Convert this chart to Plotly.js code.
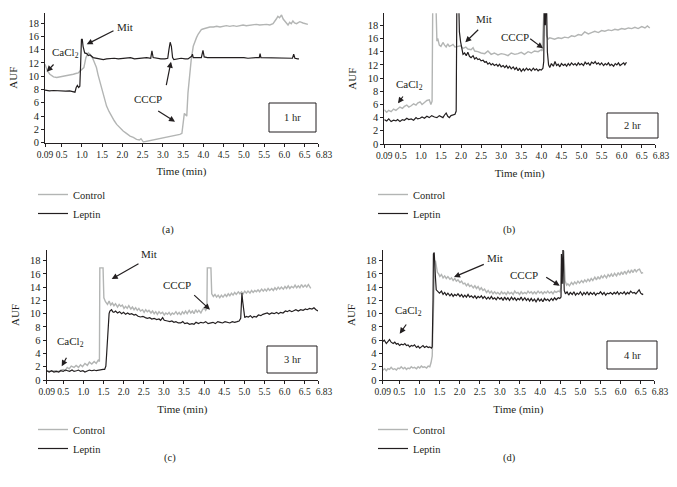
<!DOCTYPE html>
<html><head><meta charset="utf-8">
<script src="https://cdn.plot.ly/plotly-3.0.1.min.js"></script>
<style>html,body{margin:0;padding:0;background:#fff}#chart{width:677px;height:487px}</style>
</head><body><div id="chart"></div>
<script>
const xTickVals = [0.09,0.5,1.0,1.5,2.0,2.5,3.0,3.5,4.0,4.5,5.0,5.5,6.0,6.5];
const xTickText = ["0.09","0.5","1.0","1.5","2.0","2.5","3.0","3.5","4.0","4.5","5.0","5.5","6.0","6.5"];
const xEndTickVal = 6.83;
const xEndTickText = "6.83";
const yTickVals = [0,2,4,6,8,10,12,14,16,18];
const seriesNames = ["Control","Leptin"];
const panelLabels = ["(a)","(b)","(c)","(d)"];
const durationLabels = ["1 hr","2 hr","3 hr","4 hr"];

// [time (min), AUF]
const a_control = [[0.09,11.8],[0.15,10.8],[0.21,10.3],[0.30,9.9],[0.38,9.8],[0.46,9.9],[0.54,9.9],[0.62,10.1],[0.70,10.2],[0.79,10.3],[0.85,10.4],[0.91,10.5],[0.96,10.8],[1.00,11.0],[1.05,11.3],[1.10,12.8],[1.16,13.5],[1.20,13.3],[1.24,13.0],[1.28,12.5],[1.32,11.9],[1.36,11.3],[1.40,10.2],[1.45,9.0],[1.49,8.0],[1.53,7.0],[1.57,6.2],[1.61,5.5],[1.67,4.7],[1.73,4.0],[1.80,3.3],[1.86,2.75],[1.94,2.2],[2.02,1.75],[2.10,1.4],[2.19,1.0],[2.27,0.8],[2.35,0.5],[2.42,0.4],[2.46,0.6],[2.52,0.1],[2.60,0.2],[2.68,0.25],[2.76,0.4],[2.84,0.5],[2.92,0.6],[3.01,0.75],[3.09,0.8],[3.17,0.9],[3.25,1.0],[3.34,1.1],[3.42,1.25],[3.47,1.4],[3.50,3.0],[3.53,4.4],[3.56,4.2],[3.59,4.0],[3.62,7.5],[3.66,10.5],[3.70,12.5],[3.75,14.5],[3.79,15.3],[3.83,15.8],[3.87,16.3],[3.91,16.6],[3.95,17.0],[3.99,17.1],[4.08,17.3],[4.16,17.4],[4.25,17.4],[4.33,17.5],[4.41,17.4],[4.49,17.5],[4.57,17.6],[4.65,17.5],[4.74,17.6],[4.82,17.5],[4.90,17.6],[4.98,17.7],[5.06,17.6],[5.15,17.7],[5.23,17.7],[5.31,17.8],[5.39,17.7],[5.47,17.8],[5.56,17.8],[5.64,17.7],[5.72,17.9],[5.80,18.6],[5.84,19.0],[5.88,18.8],[5.93,19.2],[5.97,18.6],[6.01,18.3],[6.05,18.0],[6.09,17.7],[6.13,18.1],[6.17,17.9],[6.21,18.3],[6.25,18.0],[6.30,17.9],[6.34,18.1],[6.38,18.2],[6.46,18.0],[6.54,17.9],[6.58,17.8]];
const a_leptin = [[0.09,7.9],[0.2,7.8],[0.3,7.85],[0.4,7.8],[0.5,7.8],[0.6,7.75],[0.7,7.8],[0.79,7.7],[0.83,7.6],[0.86,8.3],[0.89,8.6],[0.92,8.3],[0.95,8.5],[0.97,11.8],[0.99,15.5],[1.01,15.6],[1.03,14.5],[1.07,13.5],[1.12,13.4],[1.16,13.1],[1.20,13.2],[1.28,12.8],[1.36,12.7],[1.45,12.6],[1.53,12.5],[1.61,12.6],[1.70,12.7],[1.80,12.7],[1.90,12.6],[2.0,12.7],[2.1,12.7],[2.2,12.8],[2.3,12.6],[2.4,12.7],[2.5,12.7],[2.6,12.8],[2.70,12.7],[2.73,13.8],[2.76,12.8],[2.85,12.7],[2.95,12.6],[3.05,12.6],[3.12,12.7],[3.15,14.0],[3.18,15.1],[3.21,14.5],[3.24,12.8],[3.27,12.5],[3.35,12.6],[3.45,12.7],[3.55,12.6],[3.62,12.6],[3.71,13.0],[3.73,13.3],[3.75,12.8],[3.85,12.8],[3.95,12.8],[3.99,13.9],[4.02,12.9],[4.1,12.8],[4.2,12.8],[4.3,12.8],[4.4,12.9],[4.5,12.8],[4.6,12.8],[4.7,12.8],[4.8,12.9],[4.9,12.8],[5.0,12.8],[5.1,12.7],[5.2,12.8],[5.3,12.8],[5.38,12.8],[5.40,13.4],[5.42,12.8],[5.5,12.8],[5.6,12.7],[5.7,12.8],[5.8,12.7],[5.9,12.7],[6.0,12.7],[6.1,12.7],[6.2,12.7],[6.23,13.3],[6.26,12.7],[6.33,12.6],[6.36,12.6]];

const b_control = [[0.09,5.2],[0.15,4.8],[0.2,5.1],[0.26,4.9],[0.32,5.3],[0.38,5.1],[0.42,5.3],[0.48,5.6],[0.54,5.4],[0.59,5.7],[0.65,5.9],[0.70,5.6],[0.76,5.8],[0.82,6.1],[0.88,5.9],[0.92,6.2],[0.98,6.4],[1.03,6.0],[1.09,6.3],[1.15,6.6],[1.21,6.7],[1.25,6.0],[1.28,6.5],[1.30,25],[1.36,25],[1.40,15.6],[1.42,16.0],[1.46,15.0],[1.50,14.8],[1.55,15.4],[1.59,15.0],[1.63,14.7],[1.67,15.2],[1.71,14.8],[1.75,14.9],[1.80,15.1],[1.85,14.7],[1.92,14.8],[1.99,14.9],[2.05,14.5],[2.12,14.7],[2.17,14.4],[2.25,14.3],[2.30,14.6],[2.34,14.1],[2.42,14.0],[2.50,13.8],[2.59,13.7],[2.67,14.1],[2.75,13.6],[2.83,13.8],[2.92,13.5],[3.0,13.7],[3.09,13.6],[3.17,13.4],[3.25,13.8],[3.34,13.6],[3.42,13.7],[3.50,13.9],[3.58,13.6],[3.67,14.0],[3.75,13.8],[3.83,14.1],[3.92,14.0],[4.00,14.3],[4.02,14.1],[4.04,25],[4.10,25],[4.13,16.4],[4.17,15.9],[4.21,16.1],[4.25,16.0],[4.33,15.9],[4.42,16.1],[4.50,16.0],[4.58,16.2],[4.67,16.1],[4.75,16.4],[4.83,16.3],[4.92,16.6],[5.0,16.5],[5.08,17.0],[5.17,16.7],[5.25,16.9],[5.33,17.1],[5.42,16.9],[5.50,17.2],[5.58,17.1],[5.67,17.3],[5.75,17.2],[5.83,17.4],[5.91,17.3],[6.0,17.5],[6.08,17.4],[6.17,17.6],[6.25,17.5],[6.33,17.7],[6.41,17.5],[6.50,17.8],[6.58,17.6],[6.64,17.9],[6.70,17.6]];
const b_leptin = [[0.09,3.7],[0.15,3.5],[0.2,3.8],[0.26,3.4],[0.32,3.6],[0.38,3.5],[0.42,3.7],[0.48,3.4],[0.54,3.7],[0.59,3.6],[0.65,3.9],[0.70,3.7],[0.76,3.8],[0.82,3.6],[0.88,4.0],[0.92,3.8],[0.98,3.9],[1.03,4.1],[1.09,3.9],[1.15,4.2],[1.21,4.0],[1.27,4.3],[1.34,4.1],[1.40,4.0],[1.46,4.3],[1.50,4.2],[1.55,4.0],[1.59,4.4],[1.63,4.7],[1.67,4.2],[1.71,4.0],[1.75,4.3],[1.80,4.4],[1.85,4.5],[1.88,5.0],[1.90,25],[1.93,25],[1.96,17],[1.99,15.5],[2.02,14.5],[2.05,13.6],[2.09,13.8],[2.13,13.4],[2.17,13.9],[2.21,13.3],[2.25,13.1],[2.30,13.4],[2.34,12.9],[2.38,13.1],[2.42,12.8],[2.46,12.9],[2.50,12.6],[2.55,12.7],[2.59,12.4],[2.63,12.5],[2.67,12.1],[2.71,12.3],[2.75,12.0],[2.79,12.2],[2.83,11.9],[2.88,12.1],[2.92,11.8],[2.96,12.1],[3.0,11.7],[3.05,11.9],[3.09,11.6],[3.13,11.9],[3.17,11.5],[3.21,11.8],[3.25,11.4],[3.30,11.7],[3.34,11.3],[3.38,11.6],[3.42,11.1],[3.46,11.5],[3.50,11.0],[3.55,11.4],[3.58,11.1],[3.63,11.5],[3.67,11.2],[3.71,11.4],[3.75,11.1],[3.80,11.5],[3.84,11.2],[3.88,11.4],[3.92,11.1],[3.96,11.3],[4.00,11.2],[4.04,11.5],[4.06,12.5],[4.08,25],[4.10,18],[4.12,25],[4.15,14],[4.18,12.0],[4.21,11.6],[4.25,12.2],[4.30,11.8],[4.34,12.5],[4.38,11.9],[4.42,12.1],[4.46,11.7],[4.50,12.2],[4.55,11.9],[4.59,12.1],[4.63,11.8],[4.67,12.2],[4.71,11.9],[4.75,12.3],[4.80,12.0],[4.84,12.2],[4.88,11.9],[4.92,12.3],[4.96,12.0],[5.0,12.2],[5.05,11.9],[5.09,12.4],[5.13,12.1],[5.17,12.3],[5.21,11.9],[5.25,12.4],[5.30,12.2],[5.34,12.5],[5.38,12.1],[5.42,12.3],[5.46,12.0],[5.50,12.3],[5.55,11.9],[5.59,12.2],[5.63,12.0],[5.67,12.3],[5.71,11.9],[5.75,12.1],[5.80,11.8],[5.84,12.2],[5.88,12.0],[5.92,12.3],[5.96,11.9],[6.0,12.1],[6.05,12.3],[6.08,12.0],[6.12,12.4]];

const c_control = [[0.09,1.4],[0.2,1.3],[0.30,1.4],[0.40,1.3],[0.44,1.5],[0.50,1.6],[0.55,1.4],[0.60,1.9],[0.65,1.7],[0.70,2.1],[0.77,1.9],[0.82,2.2],[0.88,1.9],[0.93,2.3],[0.98,2.0],[1.04,2.5],[1.10,2.2],[1.15,2.7],[1.21,2.4],[1.27,2.8],[1.32,2.5],[1.37,3.0],[1.40,2.8],[1.41,16.9],[1.49,16.9],[1.51,12.4],[1.55,11.8],[1.60,11.4],[1.64,11.9],[1.68,11.3],[1.72,11.6],[1.76,11.2],[1.80,11.5],[1.85,11.0],[1.89,11.4],[1.93,11.1],[1.97,11.3],[2.01,10.8],[2.05,11.1],[2.09,10.8],[2.13,11.2],[2.18,10.7],[2.22,11.0],[2.26,10.6],[2.30,10.9],[2.34,10.5],[2.38,10.8],[2.42,10.4],[2.47,10.6],[2.51,10.2],[2.55,10.6],[2.59,10.3],[2.63,10.5],[2.68,10.1],[2.72,10.4],[2.76,10.0],[2.80,10.3],[2.84,9.9],[2.88,10.3],[2.92,10.0],[2.97,10.2],[3.01,9.8],[3.05,10.1],[3.09,9.9],[3.13,10.2],[3.17,9.8],[3.21,10.1],[3.25,9.9],[3.30,10.3],[3.34,9.9],[3.38,10.2],[3.42,9.8],[3.46,10.3],[3.50,10.0],[3.54,10.4],[3.58,10.0],[3.63,10.5],[3.67,10.1],[3.71,10.4],[3.75,10.0],[3.79,10.6],[3.83,10.2],[3.87,10.5],[3.92,10.1],[3.96,10.6],[4.00,10.9],[4.04,10.5],[4.07,10.8],[4.08,16.9],[4.17,16.9],[4.19,13.0],[4.23,12.6],[4.27,12.9],[4.31,12.5],[4.35,12.8],[4.39,12.4],[4.43,12.8],[4.47,12.5],[4.52,12.9],[4.56,12.6],[4.60,13.0],[4.64,12.7],[4.68,13.1],[4.72,12.8],[4.76,13.2],[4.80,12.9],[4.85,13.3],[4.89,13.0],[4.93,13.3],[4.97,13.0],[5.01,13.4],[5.05,13.1],[5.09,13.4],[5.14,13.1],[5.18,13.5],[5.22,13.2],[5.26,13.5],[5.30,13.3],[5.34,13.6],[5.38,13.3],[5.43,13.7],[5.47,13.4],[5.51,13.7],[5.55,13.4],[5.59,13.8],[5.63,13.5],[5.68,13.8],[5.72,13.5],[5.76,13.9],[5.80,13.6],[5.84,14.0],[5.88,13.7],[5.92,14.0],[5.97,13.7],[6.01,14.1],[6.05,13.8],[6.09,14.2],[6.13,13.8],[6.17,14.1],[6.22,13.9],[6.26,14.3],[6.30,13.9],[6.34,14.2],[6.38,13.9],[6.42,14.4],[6.46,14.0],[6.51,14.3],[6.55,14.0],[6.59,14.4],[6.63,14.0],[6.65,13.8]];
const c_leptin = [[0.09,1.4],[0.15,1.2],[0.21,1.4],[0.27,1.2],[0.33,1.3],[0.39,1.2],[0.44,1.4],[0.50,1.3],[0.55,1.5],[0.60,1.4],[0.66,1.3],[0.72,1.5],[0.77,1.3],[0.83,1.4],[0.88,1.5],[0.93,1.3],[0.99,1.4],[1.04,1.2],[1.10,1.3],[1.15,1.5],[1.21,1.4],[1.27,1.5],[1.32,1.4],[1.38,1.5],[1.43,1.5],[1.49,1.6],[1.53,1.6],[1.56,2.1],[1.58,4.0],[1.60,6.5],[1.62,9.1],[1.64,10.0],[1.66,10.4],[1.70,10.6],[1.73,10.3],[1.76,10.2],[1.80,10.4],[1.85,10.1],[1.90,10.3],[1.95,10.0],[2.0,10.2],[2.05,9.9],[2.10,10.1],[2.15,9.9],[2.20,10.0],[2.26,9.8],[2.30,9.9],[2.36,9.6],[2.42,9.5],[2.48,9.6],[2.54,9.4],[2.59,9.3],[2.65,9.4],[2.70,9.2],[2.76,9.3],[2.82,9.1],[2.88,9.2],[2.92,9.0],[2.97,9.4],[3.01,9.0],[3.09,8.9],[3.15,8.8],[3.20,8.9],[3.25,8.7],[3.30,8.8],[3.36,8.6],[3.42,8.6],[3.47,8.8],[3.52,8.5],[3.58,8.6],[3.64,8.4],[3.70,8.5],[3.75,8.4],[3.80,8.7],[3.86,8.5],[3.92,8.7],[3.98,8.6],[4.04,8.8],[4.10,8.5],[4.16,8.6],[4.22,8.7],[4.28,8.5],[4.34,8.8],[4.40,8.7],[4.46,8.6],[4.52,8.8],[4.58,8.7],[4.64,8.6],[4.70,8.8],[4.76,8.7],[4.82,8.8],[4.87,8.9],[4.91,9.3],[4.94,13.1],[4.96,11.8],[4.99,9.5],[5.01,9.4],[5.05,9.6],[5.10,9.5],[5.15,9.7],[5.20,9.4],[5.24,9.6],[5.30,9.5],[5.35,9.8],[5.41,9.7],[5.46,9.9],[5.52,10.0],[5.57,10.1],[5.62,9.9],[5.68,10.1],[5.74,10.0],[5.80,10.2],[5.85,10.0],[5.90,10.2],[5.96,10.1],[6.02,10.4],[6.07,10.3],[6.12,10.5],[6.18,10.3],[6.23,10.4],[6.28,10.6],[6.34,10.4],[6.40,10.6],[6.46,10.5],[6.52,10.7],[6.56,10.6],[6.62,10.8],[6.68,10.7],[6.73,10.9],[6.78,10.6],[6.83,10.4]];

const d_control = [[0.09,1.5],[0.14,1.7],[0.18,1.4],[0.22,1.7],[0.26,1.6],[0.30,1.9],[0.35,1.6],[0.39,1.7],[0.43,1.5],[0.47,1.8],[0.51,1.7],[0.55,2.0],[0.60,1.7],[0.64,1.9],[0.68,1.6],[0.72,1.8],[0.76,1.7],[0.80,2.0],[0.84,1.8],[0.88,1.9],[0.93,1.7],[0.97,2.0],[1.01,1.8],[1.05,2.1],[1.09,1.9],[1.13,2.0],[1.18,1.8],[1.22,2.1],[1.26,2.0],[1.29,2.6],[1.32,3.6],[1.34,8.0],[1.36,14.0],[1.38,17.5],[1.40,18.0],[1.42,17.0],[1.45,16.2],[1.48,16.0],[1.51,15.6],[1.55,15.9],[1.59,15.4],[1.63,15.7],[1.67,15.3],[1.71,15.6],[1.76,15.2],[1.80,15.4],[1.84,15.0],[1.88,15.3],[1.92,14.9],[1.96,15.1],[2.01,14.7],[2.05,14.9],[2.09,14.5],[2.13,14.6],[2.17,14.2],[2.21,14.5],[2.25,14.1],[2.29,14.3],[2.34,13.9],[2.38,14.2],[2.42,13.8],[2.46,14.1],[2.50,13.6],[2.54,13.9],[2.58,13.5],[2.62,13.7],[2.67,13.2],[2.71,13.5],[2.75,13.1],[2.79,13.4],[2.83,13.0],[2.87,13.3],[2.91,13.0],[2.95,13.2],[3.00,12.9],[3.04,13.3],[3.08,13.0],[3.12,13.2],[3.16,12.9],[3.20,13.3],[3.24,13.0],[3.29,13.2],[3.33,12.9],[3.37,13.4],[3.41,13.1],[3.45,13.2],[3.49,12.9],[3.53,13.3],[3.57,13.0],[3.62,13.2],[3.66,13.0],[3.70,13.4],[3.74,13.1],[3.78,13.3],[3.82,13.0],[3.86,13.3],[3.90,13.0],[3.95,13.4],[3.99,13.1],[4.03,13.3],[4.07,13.0],[4.11,13.3],[4.15,13.1],[4.19,13.4],[4.23,13.1],[4.28,13.3],[4.32,13.0],[4.36,13.4],[4.40,13.2],[4.45,13.4],[4.49,13.3],[4.52,14.0],[4.54,18.5],[4.57,14.5],[4.59,19.5],[4.62,15.0],[4.66,14.3],[4.69,14.5],[4.73,14.2],[4.78,14.7],[4.82,14.4],[4.86,14.8],[4.90,14.5],[4.94,14.9],[4.98,14.6],[5.03,15.0],[5.07,14.7],[5.11,15.1],[5.15,14.8],[5.19,15.2],[5.23,14.9],[5.27,15.3],[5.31,15.0],[5.36,15.5],[5.40,15.1],[5.44,15.6],[5.48,15.2],[5.52,15.7],[5.56,15.4],[5.60,15.8],[5.65,15.4],[5.69,15.9],[5.73,15.6],[5.77,16.0],[5.81,15.6],[5.85,16.1],[5.90,15.7],[5.94,16.2],[5.98,15.8],[6.02,16.3],[6.06,15.9],[6.10,16.4],[6.14,16.0],[6.19,16.5],[6.23,16.1],[6.27,16.6],[6.31,16.2],[6.35,16.7],[6.39,16.3],[6.43,16.6],[6.47,16.7],[6.52,16.1],[6.56,16.2]];
const d_leptin = [[0.09,5.8],[0.13,6.0],[0.18,5.5],[0.22,5.9],[0.26,6.1],[0.30,5.7],[0.35,5.5],[0.39,5.7],[0.43,5.4],[0.47,5.5],[0.51,5.2],[0.55,5.4],[0.60,5.3],[0.64,5.5],[0.68,5.2],[0.72,5.3],[0.76,5.0],[0.80,5.2],[0.84,5.1],[0.88,5.3],[0.93,4.9],[0.97,5.1],[1.01,4.8],[1.05,5.0],[1.09,5.2],[1.13,4.9],[1.18,5.1],[1.22,4.9],[1.26,5.0],[1.30,4.8],[1.32,5.0],[1.34,12.0],[1.35,19.0],[1.37,19.2],[1.38,17.0],[1.40,15.5],[1.42,13.6],[1.46,13.4],[1.50,13.1],[1.55,13.4],[1.59,12.9],[1.63,13.2],[1.67,12.8],[1.71,13.1],[1.76,12.7],[1.80,13.0],[1.84,12.6],[1.88,12.9],[1.92,12.7],[1.96,13.0],[2.01,12.6],[2.05,12.9],[2.09,12.5],[2.13,12.8],[2.17,12.5],[2.21,12.9],[2.25,12.5],[2.29,12.7],[2.34,12.4],[2.38,12.7],[2.42,12.3],[2.46,12.6],[2.50,12.4],[2.54,12.7],[2.58,12.3],[2.62,12.6],[2.67,12.2],[2.71,12.5],[2.75,12.2],[2.79,12.6],[2.83,12.2],[2.87,12.4],[2.91,12.1],[2.95,12.5],[3.00,12.2],[3.04,12.4],[3.08,12.0],[3.12,12.5],[3.16,12.1],[3.20,12.4],[3.24,12.0],[3.29,12.5],[3.33,12.1],[3.37,12.4],[3.41,12.0],[3.45,12.3],[3.49,12.1],[3.53,12.5],[3.57,12.0],[3.62,12.4],[3.66,12.0],[3.70,12.3],[3.74,11.9],[3.78,12.3],[3.82,11.9],[3.86,12.2],[3.90,11.8],[3.95,12.3],[3.99,11.9],[4.03,12.2],[4.07,11.8],[4.11,12.3],[4.15,12.0],[4.19,12.2],[4.23,11.9],[4.28,12.3],[4.32,12.0],[4.36,12.4],[4.40,12.1],[4.45,12.4],[4.49,12.3],[4.52,12.5],[4.53,19.0],[4.55,14.5],[4.57,20.5],[4.60,13.5],[4.63,13.0],[4.67,13.3],[4.71,12.8],[4.75,13.2],[4.80,12.9],[4.84,13.3],[4.88,12.8],[4.92,13.1],[4.96,12.9],[5.00,13.3],[5.05,12.8],[5.09,13.2],[5.13,12.9],[5.17,13.3],[5.21,12.8],[5.25,13.2],[5.30,12.9],[5.34,13.2],[5.38,12.8],[5.42,13.1],[5.46,13.0],[5.50,13.3],[5.55,12.9],[5.59,13.2],[5.63,12.8],[5.67,13.1],[5.71,13.0],[5.75,13.2],[5.80,12.9],[5.84,13.2],[5.88,13.0],[5.92,13.3],[5.96,12.9],[6.00,13.2],[6.05,13.0],[6.09,13.3],[6.13,12.9],[6.17,13.2],[6.21,13.0],[6.25,13.4],[6.30,13.1],[6.34,13.2],[6.38,13.0],[6.42,13.3],[6.46,13.6],[6.50,13.1],[6.54,12.9],[6.56,13.0]];

const panelSeries = [[a_control,a_leptin],[b_control,b_leptin],[c_control,c_leptin],[d_control,d_leptin]];

const FONT = "Liberation Serif, Times New Roman, serif";
const INK = "#231f20";
const GREY = "#b3b5b4";
const W = 677, H = 487;
const px = v => v / W;
const py = v => 1 - v / H;

const panels = [
  {xd:[45,318], yd:[12.7,142.7], ytop:19.55, leg:[33,180], lab:[168,230], box:[269,316,103,132]},
  {xd:[384.3,655], yd:[13.3,144], ytop:19.82, leg:[373,180], lab:[510,230], box:[607,658,113,138]},
  {xd:[46.7,318], yd:[250,380], ytop:19.6, leg:[33,415], lab:[170,458], box:[267,317,346,373]},
  {xd:[382.7,654], yd:[250,380], ytop:19.6, leg:[373,415], lab:[510,458], box:[607,657,341,369]}
];

// text labels [panel, text, cx, cy] and arrows [head x, head y, tail dx, tail dy] in pixels
const labels = [
  [0,"CaCl<sub>2</sub>",65,53],[0,"Mit",125,26.7],[0,"CCCP",148.3,99.3],
  [1,"CaCl<sub>2</sub>",409.7,85],[1,"Mit",484,19],[1,"CCCP",514.7,36.7],
  [2,"CaCl<sub>2</sub>",70,342.3],[2,"Mit",149.3,253.7],[2,"CCCP",176.7,284.7],
  [3,"CaCl<sub>2</sub>",408,311.3],[3,"Mit",494.7,258],[3,"CCCP",524,274.7]
];
const arrows = [
  [46.7,71.7,8.3,-8.7],[86.7,44.3,28.3,-14.3],[171,61.7,-5,25],[175,121.7,-18.3,-11.7],
  [398,103.3,6,-8.3],[465.3,42.3,14.4,-14],[543,48.3,-14.3,-10.6],
  [61.7,366.3,5.6,-10],[111.7,279,28.3,-16],[210,309.7,-17.3,-16],
  [399.7,333.7,7.6,-10.7],[454,277,31.3,-13.3],[559.7,285.7,-15,-9.4]
];

const traces = [];
const layout = {
  width: W, height: H,
  margin: {l:0, r:0, t:0, b:0},
  paper_bgcolor: "#ffffff", plot_bgcolor: "#ffffff",
  font: {family: FONT, color: INK, size: 11},
  showlegend: true,
  annotations: [], shapes: []
};

const tickFontX = {size: 9.5, family: FONT, color: INK};

panels.forEach((p, i) => {
  const n = i === 0 ? "" : String(i + 1);
  const legendId = "legend" + n;
  panelSeries[i].forEach((s, k) => {
    traces.push({
      type: "scatter", mode: "lines",
      x: s.map(d => d[0]), y: s.map(d => d[1]),
      name: seriesNames[k],
      xaxis: "x" + n, yaxis: "y" + n,
      legend: legendId,
      line: {color: k === 0 ? GREY : INK, width: k === 0 ? 1.4 : 1.2},
      hoverinfo: "skip"
    });
  });
  // the Leptin series also bound (fully transparent) to an overlay x axis carrying only the end tick 6.83
  const ovN = String(i + 5);
  const lep = panelSeries[i][1];
  traces.push({
    type: "scatter", mode: "lines",
    x: lep.map(d => d[0]), y: lep.map(d => d[1]),
    xaxis: "x" + ovN, yaxis: "y" + n,
    showlegend: false, hoverinfo: "skip", opacity: 0,
    line: {color: "rgba(0,0,0,0)", width: 0}
  });
  layout["xaxis" + n] = {
    domain: [px(p.xd[0]), px(p.xd[1])], anchor: "y" + n,
    range: [0.09, 6.83], tickvals: xTickVals, ticktext: xTickText, tickangle: 0,
    ticks: "outside", ticklen: 3, tickcolor: INK, showline: true, linecolor: INK, linewidth: 1,
    showgrid: false, zeroline: false, tickfont: tickFontX,
    title: {text: "Time (min)", font: {size: 11, family: FONT, color: INK}, standoff: 8}
  };
  layout["xaxis" + ovN] = {
    overlaying: "x" + n, anchor: "y" + n, side: "bottom",
    range: [0.09, 6.83], tickvals: [xEndTickVal], ticktext: [xEndTickText], tickangle: 0,
    ticks: "outside", ticklen: 3, tickcolor: INK, showline: false,
    showgrid: false, zeroline: false, tickfont: tickFontX, ticklabelshift: 6
  };
  layout["yaxis" + n] = {
    domain: [py(p.yd[1]), py(p.yd[0])], anchor: "x" + n,
    range: [0, p.ytop], tickvals: yTickVals,
    ticks: "outside", ticklen: 3, tickcolor: INK, showline: true, linecolor: INK, linewidth: 1,
    showgrid: false, zeroline: false, tickfont: {size: 10.5, family: FONT, color: INK},
    title: {text: "AUF", font: {size: 11, family: FONT, color: INK}, standoff: 8}
  };
  layout[legendId] = {
    x: px(p.leg[0]), y: py(p.leg[1]), xanchor: "left", yanchor: "top",
    bgcolor: "rgba(0,0,0,0)", borderwidth: 0, tracegroupgap: 0,
    font: {size: 10.5, family: FONT, color: INK}
  };
  layout.annotations.push({
    xref: "paper", yref: "paper", x: px(p.lab[0]), y: py(p.lab[1]),
    xanchor: "center", yanchor: "middle",
    text: panelLabels[i], showarrow: false, font: {size: 10.5, family: FONT, color: INK}
  });
  const b = p.box;
  layout.shapes.push({
    type: "rect", xref: "paper", yref: "paper",
    x0: px(b[0]), x1: px(b[1]), y0: py(b[3]), y1: py(b[2]),
    line: {color: INK, width: 1}, fillcolor: "rgba(0,0,0,0)"
  });
  layout.annotations.push({
    xref: "paper", yref: "paper", x: px((b[0] + b[1]) / 2), y: py((b[2] + b[3]) / 2),
    xanchor: "center", yanchor: "middle",
    text: durationLabels[i], showarrow: false, font: {size: 10.5, family: FONT, color: INK}
  });
});

labels.forEach(l => {
  layout.annotations.push({
    xref: "paper", yref: "paper", x: px(l[2]), y: py(l[3]),
    xanchor: "center", yanchor: "middle",
    text: l[1], showarrow: false, font: {size: 11, family: FONT, color: INK}
  });
});
arrows.forEach(a => {
  layout.annotations.push({
    xref: "paper", yref: "paper", x: px(a[0]), y: py(a[1]),
    ax: a[2], ay: a[3], text: "", showarrow: true,
    arrowhead: 2, arrowsize: 1, arrowwidth: 1.2, arrowcolor: INK, standoff: 0, startstandoff: 0
  });
});

Plotly.newPlot("chart", traces, layout, {staticPlot: true, displayModeBar: false});
</script>
</body></html>
